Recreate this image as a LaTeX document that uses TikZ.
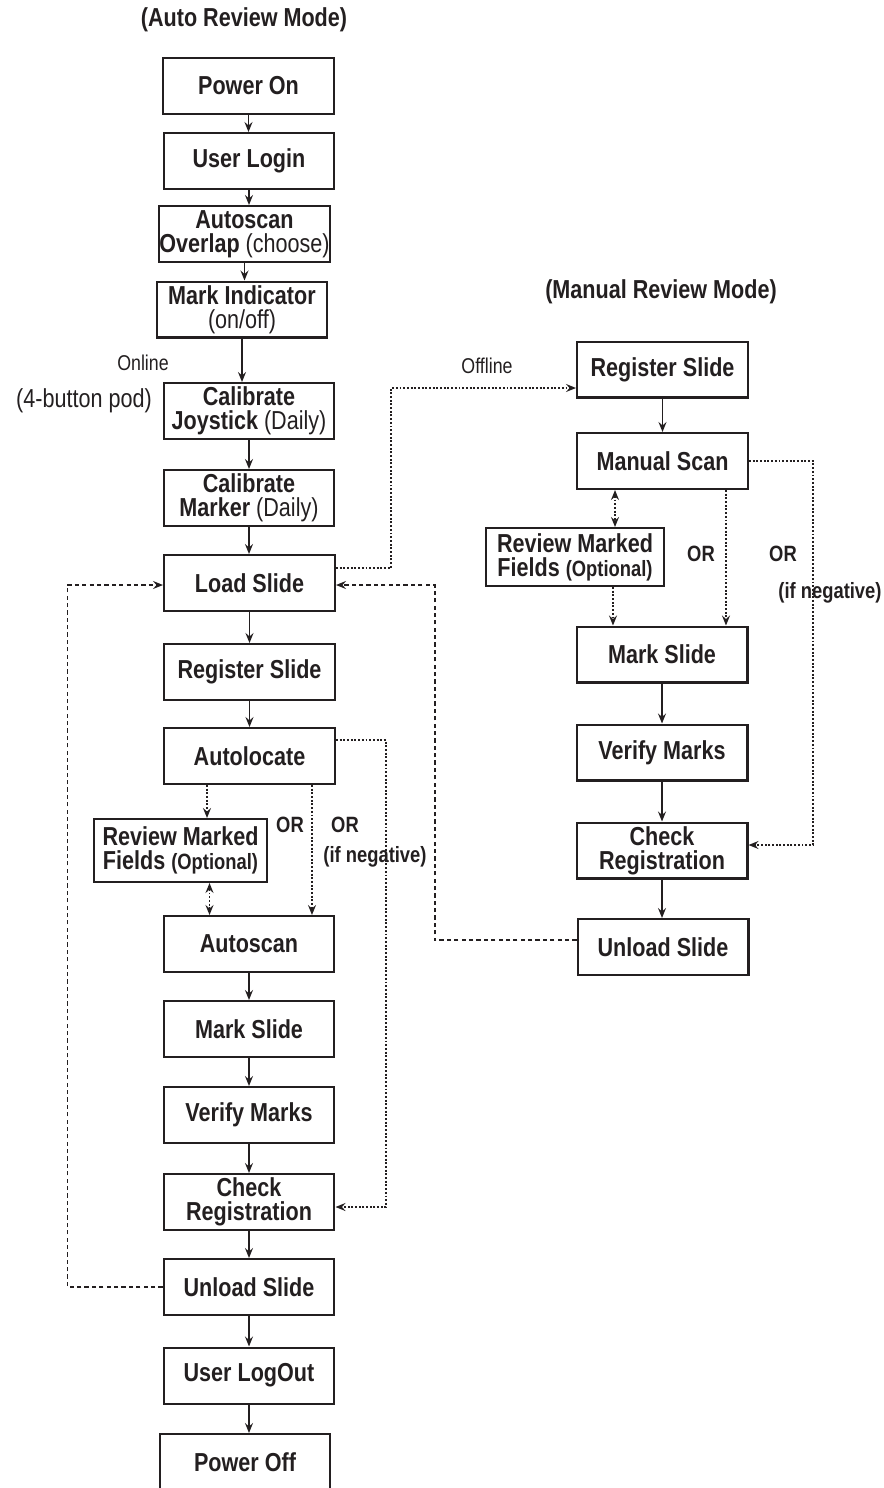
\documentclass[tikz,border=0pt]{standalone}
\usepackage{fontspec}
\setmainfont[FakeStretch=0.83]{Liberation Sans}
\usepackage{xcolor}
\usetikzlibrary{positioning,arrows.meta,calc}
\definecolor{ink}{HTML}{231F20}

\begin{document}
\begin{tikzpicture}[
    x=0.02cm, y=-0.02cm,
    >={Stealth[length=2mm,width=1.6mm,inset=0.7mm]},
    every node/.style = {font=\fontsize{14.8}{13.8}\selectfont\bfseries, text=ink},
    box/.style        = {rectangle, draw=ink, line width=1.15pt, minimum width=3.42cm,
                          minimum height=1.12cm, inner sep=0pt, align=center},
    arr/.style        = {->, line width=1pt, draw=ink},
    opt/.style        = {->, line width=1.1pt, draw=ink, densely dotted},
    back/.style       = {->, line width=1.1pt, draw=ink, dash pattern=on 2.4pt off 1.8pt},
    note/.style       = {font=\fontsize{12.2}{13}\selectfont},
    orlbl/.style      = {font=\fontsize{12.6}{13}\selectfont\bfseries},
]
\useasboundingbox (0,0) rectangle (884,1488);

% Auto review mode: main column
\node (tauto) at (244,20) {(Auto Review Mode)};
\node[box] (pon)    at (248.5,86)  {Power On};
\node[box] (login)  at (249,161)   {User Login};
\node[box] (ovl)    at (244.5,234) {Autoscan\\Overlap \textmd{(choose)}};
\node[box] (mind)   at (242,309.5) {Mark Indicator\\\textmd{(on/off)}};
\node[box] (joy)    at (249,411)   {Calibrate\\Joystick \textmd{(Daily)}};
\node[box] (mkr)    at (249,498)   {Calibrate\\Marker \textmd{(Daily)}};
\node[box] (load)   at (249.5,583) {Load Slide};
\node[box] (reg)    at (249.5,672) {Register Slide};
\node[box] (aloc)   at (249.5,756) {Autolocate};
\node[box, minimum width=3.46cm, minimum height=1.26cm] (rev) at (180.5,850.5)
    {Review Marked\\Fields {\fontsize{12.6}{13}\selectfont (Optional)}};
\node[box] (ascan)  at (249,944)   {Autoscan};
\node[box] (mslide) at (249,1029)  {Mark Slide};
\node[box] (verify) at (249,1115)  {Verify Marks};
\node[box] (check)  at (249,1202)  {Check\\Registration};
\node[box] (unload) at (249,1287)  {Unload Slide};
\node[box] (logout) at (249,1375.5) {User LogOut};
\node[box] (poff)   at (245,1462)  {Power Off};

\node[note] (online) at (143,363) {Online};
\node[font=\fontsize{14.8}{15}\selectfont] (pod) at (84,401) {(4-button pod)};
\node[orlbl] (or1) at (290,825) {OR};
\node[orlbl] (or2) at (345,825) {OR};
\node[orlbl] (neg1) at (375,857) {(if negative)};

% Manual review mode: right column
\node (tman) at (661,292) {(Manual Review Mode)};
\node[box] (mreg)    at (662.5,369.5) {Register Slide};
\node[box] (mscan)   at (662.5,461)   {Manual Scan};
\node[box, minimum width=3.56cm, minimum height=1.16cm] (mrev) at (575,557)
    {Review Marked\\Fields {\fontsize{12.6}{13}\selectfont (Optional)}};
\node[box] (mmark)   at (662,654.5)   {Mark Slide};
\node[box] (mverify) at (662,752.5)   {Verify Marks};
\node[box] (mcheck)  at (662,850.5)   {Check\\Registration};
\node[box] (munload) at (663,947)     {Unload Slide};

\node[note] (offline) at (487,366) {Offline};
\node[orlbl] (or3) at (701,554) {OR};
\node[orlbl] (or4) at (783,554) {OR};
\node[orlbl] (neg2) at (830,593) {(if negative)};

% Straight flow
\foreach \a/\b in {pon/login, login/ovl, ovl/mind, mind/joy, joy/mkr, mkr/load,
                   load/reg, reg/aloc, ascan/mslide, mslide/verify, verify/check,
                   check/unload, unload/logout, logout/poff,
                   mreg/mscan, mmark/mverify, mverify/mcheck, mcheck/munload} {
    \draw[arr] (\a.south) -- (\a.south |- \b.north);
}

% Optional and alternative routes (dotted)
\draw[opt] ([xshift=-0.85cm]aloc.south) -- ([xshift=-0.85cm]aloc.south |- rev.north);
\draw[opt, <->] ([xshift=-0.79cm]ascan.north |- rev.south) -- ([xshift=-0.79cm]ascan.north);
\draw[opt] ([xshift=1.25cm]aloc.south) -- ([xshift=1.25cm]aloc.south |- ascan.north);
\draw[opt] ([yshift=0.32cm]aloc.east) -- ++(1cm,0) |- ([yshift=-0.1cm]check.east);
\draw[opt] ([yshift=0.3cm]load.east) -- ++(1.1cm,0) |- ([yshift=-0.37cm]mreg.west);

\draw[opt, <->] ([xshift=-0.95cm]mscan.south) -- ([xshift=-0.95cm]mscan.south |- mrev.north);
\draw[opt] ([xshift=0.76cm]mrev.south) -- ([xshift=0.76cm]mrev.south |- mmark.north);
\draw[opt] ([xshift=1.27cm]mscan.south) -- ([xshift=1.27cm]mscan.south |- mmark.north);
\draw[opt] (mscan.east) -- ++(1.28cm,0) |- ([yshift=0.11cm]mcheck.east);

% Next slide loops (dashed)
\draw[back] ([yshift=0.14cm]munload.west) -- ++(-2.84cm,0) |- ([yshift=-0.04cm]load.east);
\draw[back] (unload.west) -- ++(-1.9cm,0) |- ([yshift=-0.04cm]load.west);

\end{tikzpicture}
\end{document}
